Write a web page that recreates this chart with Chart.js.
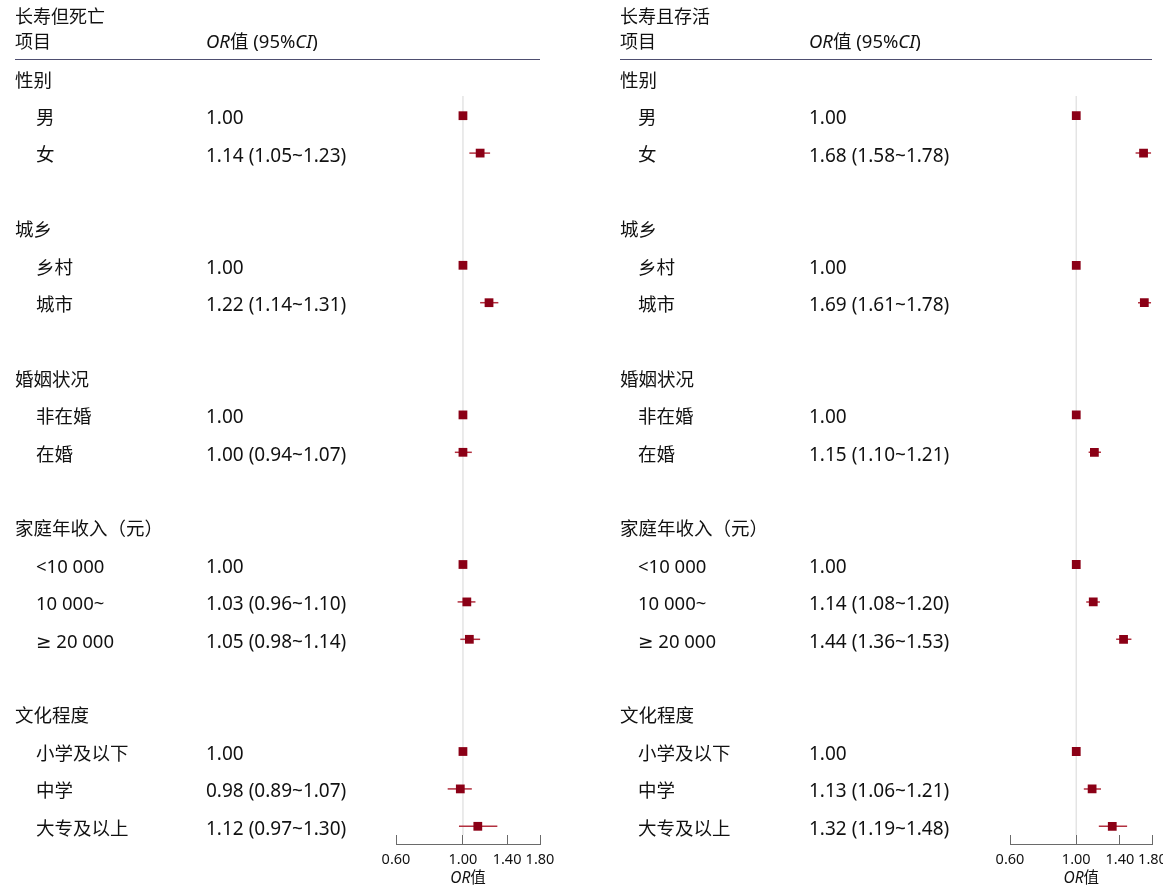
<!DOCTYPE html>
<html>
<head>
<meta charset="utf-8">
<script src="https://cdn.jsdelivr.net/npm/chart.js@4.4.1/dist/chart.umd.min.js"></script>
<style>
  html, body { margin: 0; padding: 0; background: #ffffff; }
  #wrap { position: relative; width: 1163px; height: 888px; overflow: hidden; background: #ffffff; }
  #wrap canvas { position: absolute; top: 0; }
</style>
</head>
<body>
<div id="wrap">
  <canvas id="panelDeath" width="600" height="888" style="left:0px"></canvas>
  <canvas id="panelAlive" width="563" height="888" style="left:600px"></canvas>
</div>
<script>
// ---- data -------------------------------------------------------------
const panelTitles = ['长寿但死亡', '长寿且存活'];
const groupNames = ['性别', '城乡', '婚姻状况', '家庭年收入（元）', '文化程度'];
const categories = ['男', '女', '乡村', '城市', '非在婚', '在婚', '<10 000', '10 000~', '≥ 20 000', '小学及以下', '中学', '大专及以上'];
const categoryGroup = [0, 0, 1, 1, 2, 2, 3, 3, 3, 4, 4, 4];

// 长寿但死亡
const deathOR   = [1.00, 1.14, 1.00, 1.22, 1.00, 1.00, 1.00, 1.03, 1.05, 1.00, 0.98, 1.12];
const deathLow  = [null, 1.05, null, 1.14, null, 0.94, null, 0.96, 0.98, null, 0.89, 0.97];
const deathHigh = [null, 1.23, null, 1.31, null, 1.07, null, 1.10, 1.14, null, 1.07, 1.30];

// 长寿且存活
const aliveOR   = [1.00, 1.68, 1.00, 1.69, 1.00, 1.15, 1.00, 1.14, 1.44, 1.00, 1.13, 1.32];
const aliveLow  = [null, 1.58, null, 1.61, null, 1.10, null, 1.08, 1.36, null, 1.06, 1.19];
const aliveHigh = [null, 1.78, null, 1.78, null, 1.21, null, 1.20, 1.53, null, 1.21, 1.48];

const tickValues = [0.60, 1.00, 1.40, 1.80];
const referenceOR = 1.00;

// ---- helpers ----------------------------------------------------------
const LATIN = '"Noto Sans", "DejaVu Sans", "Noto Sans CJK SC", sans-serif';
const TEXT_COLOR = '#111111';
const MARK_COLOR = '#8b0016';
const CI_COLOR = '#b2303f';

// table rows: group heading, its items, then an empty spacer row
function buildRows(orv, lo, hi) {
  const rows = [];
  let r = 0;
  groupNames.forEach((g, gi) => {
    if (gi > 0) r++;                       // spacer
    rows.push({ kind: 'group', text: g, row: r++ });
    categories.forEach((c, ci) => {
      if (categoryGroup[ci] !== gi) return;
      rows.push({ kind: 'item', text: c, row: r++, or: orv[ci], lo: lo[ci], hi: hi[ci] });
    });
  });
  return rows;
}

function fmt(v) { return v.toFixed(2); }

function drawRich(ctx, parts, x, y, size, align) {
  const fonts = parts.map(p => (p[1] ? 'italic ' : '') + size + 'px ' + LATIN);
  const widths = parts.map((p, i) => { ctx.font = fonts[i]; return ctx.measureText(p[0]).width; });
  const total = widths.reduce((a, b) => a + b, 0);
  let cx = align === 'center' ? x - total / 2 : x;
  ctx.textAlign = 'left';
  parts.forEach((p, i) => { ctx.font = fonts[i]; ctx.fillText(p[0], cx, y); cx += widths[i]; });
}

// draws the table columns, the heading rule and the axis title
const tablePlugin = {
  id: 'forestTable',
  afterDraw(chart, args, o) {
    const ctx = chart.ctx;
    const ys = chart.scales.y;
    const xs = chart.scales.x;
    ctx.save();
    ctx.fillStyle = TEXT_COLOR;
    ctx.textBaseline = 'middle';

    ctx.font = '18px ' + LATIN;
    ctx.textAlign = 'left';
    ctx.fillText(o.title, o.groupX, 18);
    ctx.fillText('项目', o.groupX, 43);
    drawRich(ctx, [['OR', true], ['值', false], [' (95%', false], ['CI', true], [')', false]], o.valueX, 43, 18.5, 'left');

    ctx.strokeStyle = '#4e4e70';
    ctx.lineWidth = 1.2;
    ctx.beginPath();
    ctx.moveTo(o.groupX, 59.5);
    ctx.lineTo(o.ruleEnd, 59.5);
    ctx.stroke();

    o.rows.forEach(r => {
      const py = ys.getPixelForValue(r.row) + 3;
      ctx.font = '18.5px ' + LATIN;
      if (r.kind === 'group') {
        ctx.fillText(r.text, o.groupX, py);
      } else {
        ctx.fillText(r.text, o.itemX, py);
        const s = r.lo == null ? fmt(r.or) : fmt(r.or) + ' (' + fmt(r.lo) + '~' + fmt(r.hi) + ')';
        ctx.font = '19px ' + LATIN;
        ctx.fillText(s, o.valueX, py);
      }
    });

    const cx = (xs.left + xs.right) / 2;
    drawRich(ctx, [['OR', true], ['值', false]], cx, 879, 15.5, 'center');
    ctx.restore();
  }
};

function makePanel(canvasId, title, orv, lo, hi, g) {
  const rows = buildRows(orv, lo, hi);
  const items = rows.filter(r => r.kind === 'item');
  const lastRow = rows[rows.length - 1].row;
  const yMin = -0.516;
  const yMax = lastRow + 0.473;

  const datasets = [];
  datasets.push({
    type: 'scatter',
    data: items.map(r => ({ x: r.or, y: r.row })),
    pointStyle: 'rect',
    pointRadius: 6.2,
    pointBackgroundColor: MARK_COLOR,
    pointBorderColor: MARK_COLOR,
    pointBorderWidth: 0,
    order: 0
  });
  items.filter(r => r.lo != null).forEach(r => {
    datasets.push({
      type: 'line',
      data: [{ x: r.lo, y: r.row }, { x: r.hi, y: r.row }],
      borderColor: CI_COLOR,
      borderWidth: 1.5,
      pointRadius: 0,
      fill: false,
      order: 1
    });
  });
  datasets.push({
    type: 'line',
    data: [{ x: referenceOR, y: 0.47 }, { x: referenceOR, y: lastRow + 0.23 }],
    borderColor: '#e4e4e4',
    borderWidth: 1.5,
    pointRadius: 0,
    fill: false,
    order: 2
  });

  return new Chart(document.getElementById(canvasId), {
    type: 'scatter',
    data: { datasets },
    options: {
      responsive: false,
      animation: false,
      devicePixelRatio: 1,
      layout: { padding: { left: g.left, right: g.right, top: 59, bottom: 0 } },
      plugins: {
        legend: { display: false },
        tooltip: { enabled: false },
        forestTable: { title, rows, groupX: g.groupX, itemX: g.itemX, valueX: g.valueX, ruleEnd: g.ruleEnd }
      },
      scales: {
        x: {
          type: 'logarithmic',
          min: 0.6,
          max: 1.8,
          afterBuildTicks: s => { s.ticks = tickValues.map(v => ({ value: v })); },
          afterFit: s => { s.height = 44; s.paddingLeft = 0; s.paddingRight = 0; },
          ticks: {
            autoSkip: false,
            maxRotation: 0,
            minRotation: 0,
            padding: 16,
            color: TEXT_COLOR,
            font: { family: LATIN, size: 14.5 },
            callback: v => Number(v).toFixed(2)
          },
          grid: { drawOnChartArea: false, drawTicks: true, tickLength: -9, color: '#6a6a6a', lineWidth: 1 },
          border: { display: true, color: '#6a6a6a', width: 1 }
        },
        y: { type: 'linear', reverse: true, min: yMin, max: yMax, display: false }
      }
    },
    plugins: [tablePlugin]
  });
}

makePanel('panelDeath', panelTitles[0], deathOR, deathLow, deathHigh,
  { left: 396, right: 60, groupX: 15, itemX: 36, valueX: 206, ruleEnd: 540 });
makePanel('panelAlive', panelTitles[1], aliveOR, aliveLow, aliveHigh,
  { left: 410, right: 10.5, groupX: 20, itemX: 38, valueX: 209, ruleEnd: 552 });
</script>
</body>
</html>
